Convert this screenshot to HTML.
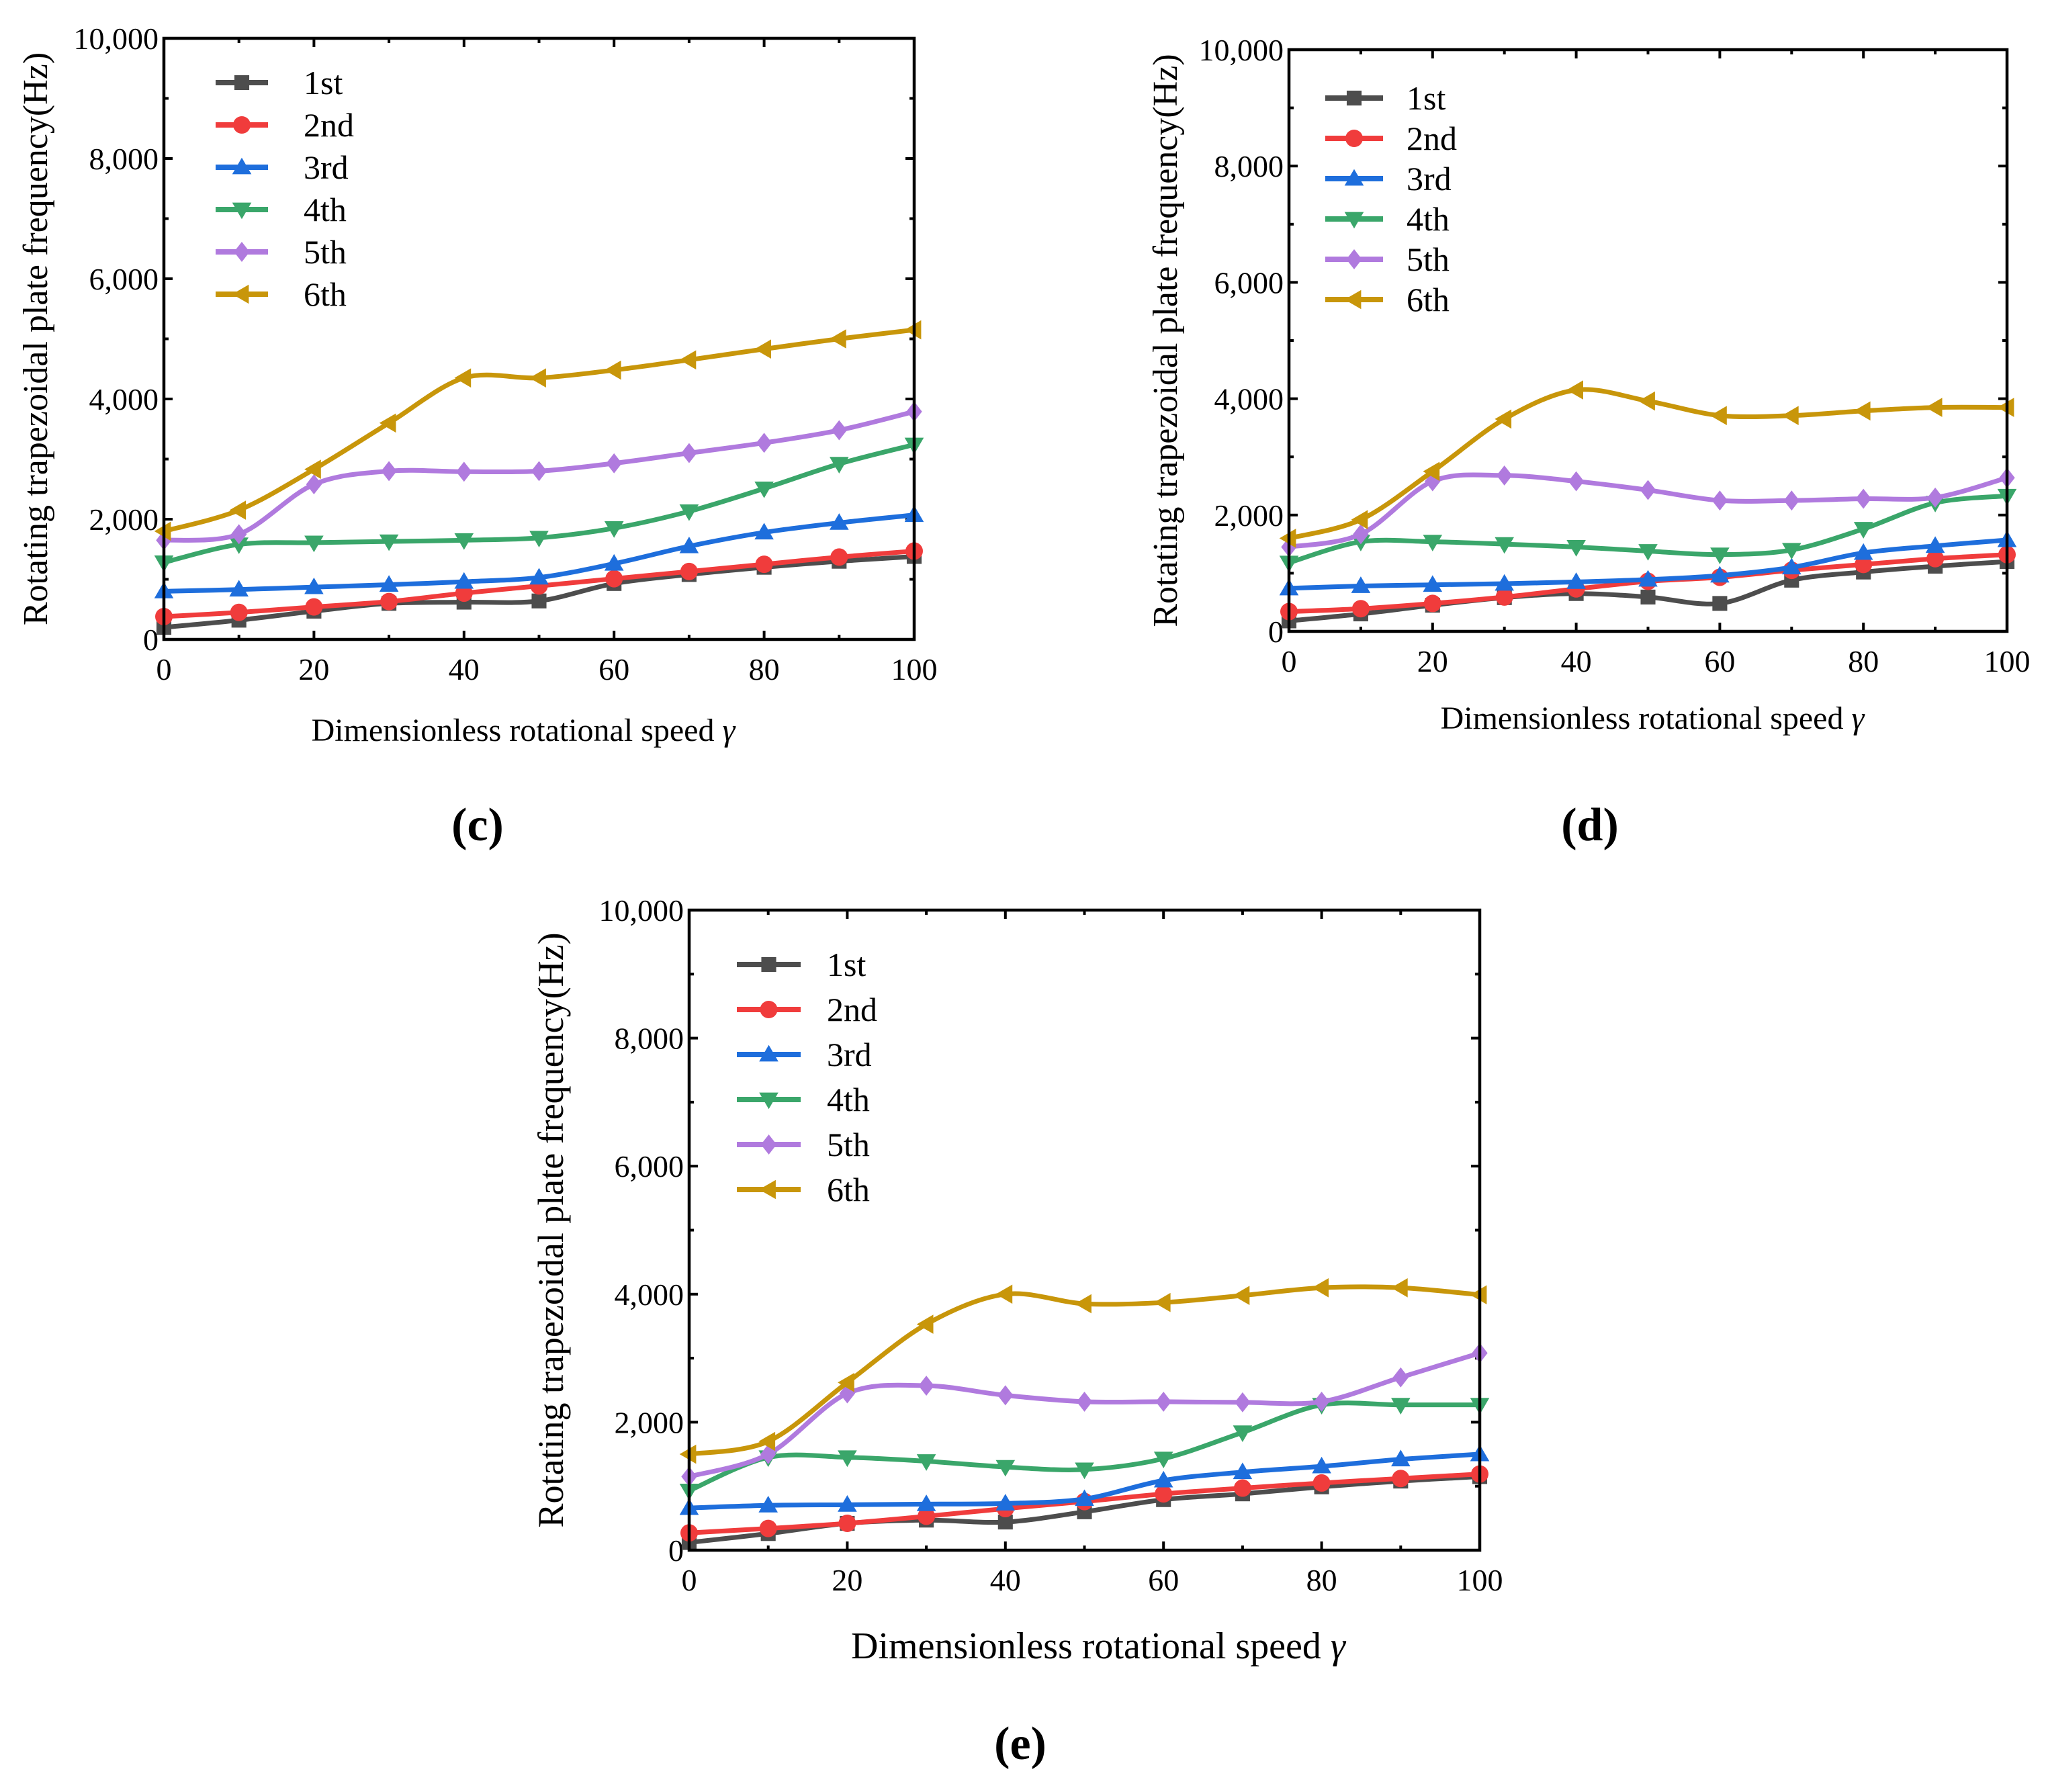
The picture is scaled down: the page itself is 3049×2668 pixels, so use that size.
<!DOCTYPE html>
<html><head><meta charset="utf-8"><style>
html,body{margin:0;padding:0;background:#fff;}
svg{display:block;font-family:"Liberation Serif",serif;}
</style></head><body>
<svg id="fig" width="3049" height="2668" viewBox="0 0 3049 2668" xmlns="http://www.w3.org/2000/svg"></svg>
<script>
const xCategories = [0,10,20,30,40,50,60,70,80,90,100];
const seriesNames = ["1st","2nd","3rd","4th","5th","6th"];
const xTickLabels = ["0","20","40","60","80","100"];
const yTickLabels = ["0","2,000","4,000","6,000","8,000","10,000"];

const c1 = [200,320,470,600,620,640,930,1080,1200,1300,1380];
const c2 = [380,450,540,630,770,890,1010,1130,1250,1370,1470];
const c3 = [800,830,870,910,960,1030,1260,1550,1780,1940,2070];
const c4 = [1280,1580,1610,1630,1650,1690,1850,2130,2510,2920,3240];
const c5 = [1650,1750,2580,2800,2790,2800,2930,3100,3270,3480,3790];
const c6 = [1800,2150,2830,3600,4350,4350,4480,4650,4830,5000,5150];

const d1 = [180,300,450,580,650,590,480,880,1020,1120,1200];
const d2 = [340,390,480,590,730,860,930,1050,1150,1250,1320];
const d3 = [740,780,800,820,850,890,960,1100,1350,1470,1570];
const d4 = [1180,1540,1540,1500,1450,1380,1320,1400,1760,2210,2330];
const d5 = [1450,1670,2580,2680,2580,2430,2250,2250,2280,2300,2640];
const d6 = [1600,1920,2750,3650,4150,3960,3710,3710,3790,3850,3850];

const e1 = [120,260,420,470,440,600,790,880,990,1080,1150];
const e2 = [270,340,420,530,650,760,880,970,1050,1120,1190];
const e3 = [660,700,710,720,730,800,1090,1220,1310,1420,1500];
const e4 = [930,1450,1450,1390,1300,1260,1430,1840,2270,2270,2270];
const e5 = [1150,1500,2450,2570,2420,2320,2320,2310,2320,2700,3080];
const e6 = [1500,1700,2620,3530,4000,3850,3870,3980,4100,4100,3990];

const colors = ["#4d4d4d","#f03c3c","#1e6edc","#3aa66a","#b07ade","#c8960a"];
const markers = ["square","circle","tri-up","tri-down","diamond","tri-left"];
const NS = "http://www.w3.org/2000/svg";
const svg = document.getElementById("fig");

function mk(tag, attrs, parent){
  const el = document.createElementNS(NS, tag);
  for (const k in attrs) el.setAttribute(k, attrs[k]);
  (parent||svg).appendChild(el);
  return el;
}

function marker(g, kind, x, y, col){
  const s = 13;
  let el;
  if (kind==="square") el = mk("rect",{x:x-s*0.85,y:y-s*0.85,width:s*1.7,height:s*1.7,fill:col},g);
  else if (kind==="circle") el = mk("circle",{cx:x,cy:y,r:s,fill:col},g);
  else if (kind==="tri-up") el = mk("polygon",{points:`${x},${y-s*1.1} ${x-s*1.1},${y+s*0.8} ${x+s*1.1},${y+s*0.8}`,fill:col},g);
  else if (kind==="tri-down") el = mk("polygon",{points:`${x},${y+s*1.1} ${x-s*1.1},${y-s*0.8} ${x+s*1.1},${y-s*0.8}`,fill:col},g);
  else if (kind==="diamond") el = mk("polygon",{points:`${x},${y-s*1.15} ${x+s*0.9},${y} ${x},${y+s*1.15} ${x-s*0.9},${y}`,fill:col},g);
  else el = mk("polygon",{points:`${x-s*1.1},${y} ${x+s*0.8},${y-s*1.1} ${x+s*0.8},${y+s*1.1}`,fill:col},g);
  
  
}

function smoothPath(pts){
  let d = `M${pts[0][0]},${pts[0][1]}`;
  for (let i=0;i<pts.length-1;i++){
    const p0 = pts[Math.max(0,i-1)], p1 = pts[i], p2 = pts[i+1], p3 = pts[Math.min(pts.length-1,i+2)];
    const t = 0.16;
    const c1x = p1[0]+(p2[0]-p0[0])*t, c1y = p1[1]+(p2[1]-p0[1])*t;
    const c2x = p2[0]-(p3[0]-p1[0])*t, c2y = p2[1]-(p3[1]-p1[1])*t;
    d += ` C${c1x},${c1y} ${c2x},${c2y} ${p2[0]},${p2[1]}`;
  }
  return d;
}

function drawPlot(cfg){
  const {name,L,R,T,B,data,ytitleX,xtitleY,xtitleCX,legX1,legX2,legTX,legY,legDY,capX,capY,capText,ytFs,xtFs} = cfg;
  const g = mk("g",{});
  
  
  const xs = v => L + (v/100)*(R-L);
  const ys = v => B - (v/10000)*(B-T);
  for (let v=0; v<=100; v+=10){
    const major = v%20===0, len = major?13:7, x = xs(v);
    mk("line",{x1:x,y1:B,x2:x,y2:B-len,stroke:"#000","stroke-width":4},g);
    mk("line",{x1:x,y1:T,x2:x,y2:T+len,stroke:"#000","stroke-width":4},g);
  }
  for (let v=0; v<=10000; v+=1000){
    const major = v%2000===0, len = major?13:7, y = ys(v);
    mk("line",{x1:L,y1:y,x2:L+len,y2:y,stroke:"#000","stroke-width":4},g);
    mk("line",{x1:R,y1:y,x2:R-len,y2:y,stroke:"#000","stroke-width":4},g);
  }
  xTickLabels.forEach((t,i)=>{
    const tx = mk("text",{x:xs(i*20),y:B+60,"font-size":46,"text-anchor":"middle"},g);
    tx.textContent = t;
    
    
  });
  yTickLabels.forEach((t,i)=>{
    const tx = mk("text",{x:L-8,y:ys(i*2000)+16,"font-size":46,"text-anchor":"end"},g);
    tx.textContent = t;
    
    
  });
  data.forEach((vals,si)=>{
    const sg = mk("g",{},g);
    
    
    const pts = vals.map((v,i)=>[xs(xCategories[i]), ys(v)]);
    const p = mk("path",{d:smoothPath(pts),fill:"none",stroke:colors[si],"stroke-width":7,"stroke-linejoin":"round"},sg);
    
    
    pts.forEach(pt=>marker(sg, markers[si], pt[0], pt[1], colors[si]));
  });
  const fr = mk("rect",{x:L,y:T,width:R-L,height:B-T,fill:"none",stroke:"#000","stroke-width":4.5},g);
  
  
  const lg = mk("g",{},g);
  
  
  seriesNames.forEach((n,i)=>{
    const y = legY + i*legDY;
    const le = mk("g",{},lg);
    
    
    mk("line",{x1:legX1,y1:y,x2:legX2,y2:y,stroke:colors[i],"stroke-width":8},le);
    marker(le, markers[i], (legX1+legX2)/2, y, colors[i]);
    const t = mk("text",{x:legTX,y:y+17,"font-size":50},le);
    t.textContent = n;
  });
  const yt = mk("text",{x:0,y:0,"font-size":ytFs,"text-anchor":"middle",transform:`translate(${ytitleX},${(T+B)/2}) rotate(-90)`},g);
  yt.textContent = "Rotating trapezoidal plate frequency(Hz)";
  
  
  const xt = mk("text",{x:xtitleCX,y:xtitleY+16,"font-size":xtFs,"text-anchor":"middle"},g);
  xt.innerHTML = 'Dimensionless rotational speed <tspan font-style="italic">γ</tspan>';
  
  
  const cp = mk("text",{x:capX,y:capY+24,"font-size":70,"text-anchor":"middle","font-weight":"bold"},g);
  cp.textContent = capText;
  
  
}

drawPlot({name:"chart-c",L:244,R:1361,T:57,B:952,data:[c1,c2,c3,c4,c5,c6],
  ytitleX:70,xtitleY:1087,xtitleCX:779,legX1:321,legX2:399,legTX:452,legY:123,legDY:63,
  capX:711,capY:1227,capText:"(c)",ytFs:52,xtFs:48});
drawPlot({name:"chart-d",L:1919,R:2988,T:74,B:940,data:[d1,d2,d3,d4,d5,d6],
  ytitleX:1752,xtitleY:1069,xtitleCX:2460,legX1:1973,legX2:2059,legTX:2094,legY:146,legDY:60,
  capX:2367,capY:1227,capText:"(d)",ytFs:52,xtFs:48});
drawPlot({name:"chart-e",L:1026,R:2203,T:1355,B:2308,data:[e1,e2,e3,e4,e5,e6],
  ytitleX:838,xtitleY:2453,xtitleCX:1635,legX1:1097,legX2:1192,legTX:1231,legY:1436,legDY:67,
  capX:1519,capY:2595,capText:"(e)",ytFs:54,xtFs:56});
</script>
</body></html>
